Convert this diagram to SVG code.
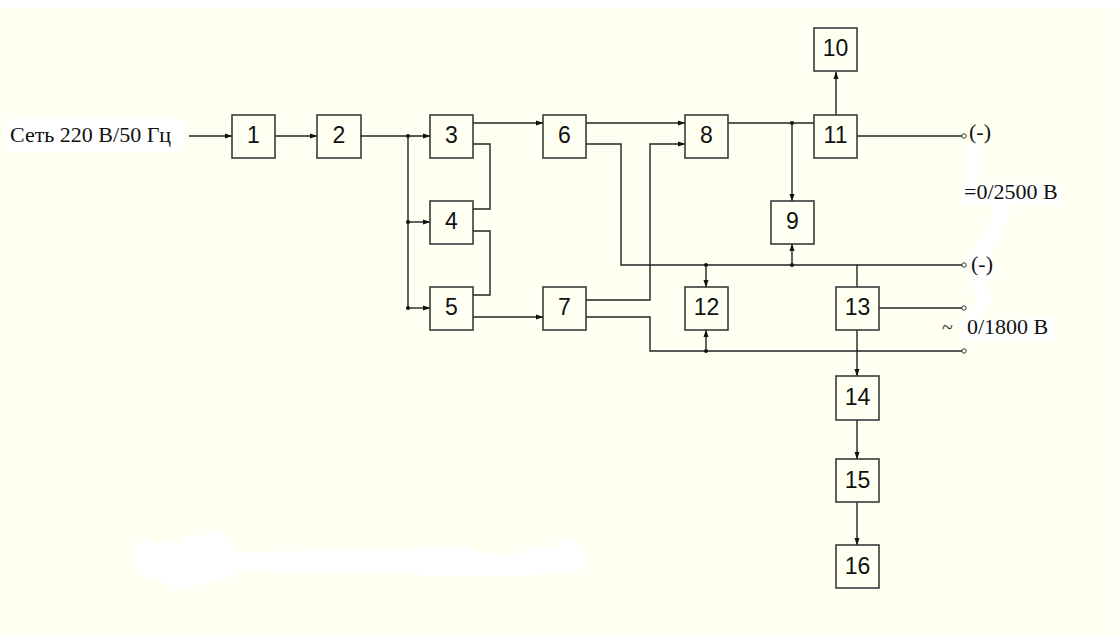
<svg xmlns="http://www.w3.org/2000/svg" width="1119" height="634" viewBox="0 0 1119 634">
<defs>
<marker id="arr" markerWidth="8" markerHeight="6" refX="7" refY="3" orient="auto" markerUnits="userSpaceOnUse">
<path d="M0,0.5 L7.5,3 L0,5.5 Z" fill="#111"/>
</marker>
<style>
.bx{fill:none;stroke:#3a3a3a;stroke-width:1.6}
.num{font-family:"Liberation Sans",Arial,sans-serif;font-size:23px;fill:#111;text-anchor:middle}
.lbl{font-family:"Liberation Serif","Times New Roman",serif;font-size:22px;fill:#111}
.ln{fill:none;stroke:#222;stroke-width:1.4}
.dot{fill:#111}
.term{fill:#fff;stroke:#333;stroke-width:1}
.wh{fill:#fff;stroke:none}
</style>
</defs>
<rect x="0" y="0" width="1119" height="634" fill="#FFFFF2"/>
<rect x="0" y="0" width="1119" height="7" fill="#fff"/>
<g id="erasures">
<rect class="wh" x="4" y="118" width="180" height="34" rx="8"/>
<path class="wh" d="M966,142 L984,142 L980,160 L978,183 L1060,183 L1062,205 L1012,206 L1005,226 L996,244 L990,256 L995,278 L987,284 L992,300 L985,312 L978,320 L1054,318 L1054,342 L960,342 L960,320 L968,314 L976,300 L972,286 L968,276 L968,256 L980,240 L990,222 L995,206 L962,206 L962,183 L966,180 L966,162 Z"/>
<path class="wh" d="M136,548 L142,539 L152,540 L155,545 L165,541 L180,545 L185,535 L196,538 L205,533 L218,530 L228,536 L232,546 L240,552 L360,550 L408,549 L440,547 L470,546 L478,553 L522,554 L524,548 L556,548 L558,538 L576,542 L580,550 L584,554 L584,566 L576,572 L556,574 L520,575 L460,576 L425,576 L420,573 L366,572 L300,572 L238,571 L232,577 L216,583 L200,584 L190,590 L170,590 L165,581 L148,579 L140,575 L136,565 Z"/>
</g>
<text class="lbl" x="10" y="142">Сеть 220 В/50 Гц</text>
<g id="connectors">
<line class="ln" x1="189" y1="136" x2="232" y2="136" marker-end="url(#arr)"/>
<line class="ln" x1="275" y1="136" x2="317" y2="136" marker-end="url(#arr)"/>
<line class="ln" x1="360" y1="136" x2="430" y2="136" marker-end="url(#arr)"/>
<line class="ln" x1="408" y1="136" x2="408" y2="308"/>
<line class="ln" x1="408" y1="222" x2="430" y2="222" marker-end="url(#arr)"/>
<line class="ln" x1="408" y1="308" x2="430" y2="308" marker-end="url(#arr)"/>
<circle class="dot" cx="408" cy="136" r="2"/>
<circle class="dot" cx="408" cy="222" r="2"/>
<circle class="dot" cx="408" cy="308" r="2"/>
<line class="ln" x1="473" y1="123" x2="543" y2="123" marker-end="url(#arr)"/>
<polyline class="ln" points="473,144 490,144 490,209 473,209"/>
<polyline class="ln" points="473,231 490,231 490,295 473,295"/>
<line class="ln" x1="473" y1="317" x2="543" y2="317" marker-end="url(#arr)"/>
<line class="ln" x1="586" y1="123" x2="685" y2="123" marker-end="url(#arr)"/>
<polyline class="ln" points="586,144 621,144 621,265 962,265"/>
<polyline class="ln" points="586,300 650,300 650,144 685,144" marker-end="url(#arr)"/>
<polyline class="ln" points="586,317 650,317 650,351 962,351"/>
<line class="ln" x1="728" y1="123" x2="814" y2="123"/>
<circle class="dot" cx="792" cy="123" r="2"/>
<line class="ln" x1="792" y1="123" x2="792" y2="201" marker-end="url(#arr)"/>
<circle class="dot" cx="792" cy="265" r="2"/>
<line class="ln" x1="792" y1="265" x2="792" y2="244" marker-end="url(#arr)"/>
<circle class="dot" cx="706" cy="265" r="2"/>
<line class="ln" x1="706" y1="265" x2="706" y2="287" marker-end="url(#arr)"/>
<circle class="dot" cx="706" cy="351" r="2"/>
<line class="ln" x1="706" y1="351" x2="706" y2="330" marker-end="url(#arr)"/>
<line class="ln" x1="857" y1="265" x2="857" y2="287"/>
<line class="ln" x1="836" y1="115" x2="836" y2="72" marker-end="url(#arr)"/>
<line class="ln" x1="857" y1="136" x2="962" y2="136"/>
<line class="ln" x1="879" y1="308" x2="962" y2="308"/>
<line class="ln" x1="857" y1="330" x2="857" y2="376" marker-end="url(#arr)"/>
<line class="ln" x1="857" y1="420" x2="857" y2="459" marker-end="url(#arr)"/>
<line class="ln" x1="857" y1="502" x2="857" y2="545" marker-end="url(#arr)"/>
<circle class="term" cx="964" cy="136" r="2.2"/>
<circle class="term" cx="964" cy="265" r="2.2"/>
<circle class="term" cx="964" cy="308" r="2.2"/>
<circle class="term" cx="964" cy="351" r="2.2"/>
</g>
<g id="n1"><rect class="bx" x="232" y="115" width="43" height="43"/><text class="num" x="253.5" y="143">1</text></g>
<g id="n2"><rect class="bx" x="317" y="115" width="44" height="43"/><text class="num" x="339" y="143">2</text></g>
<g id="n3"><rect class="bx" x="430" y="115" width="43" height="43"/><text class="num" x="451.5" y="143">3</text></g>
<g id="n4"><rect class="bx" x="430" y="201" width="43" height="43"/><text class="num" x="451.5" y="229">4</text></g>
<g id="n5"><rect class="bx" x="430" y="287" width="43" height="43"/><text class="num" x="451.5" y="315">5</text></g>
<g id="n6"><rect class="bx" x="543" y="115" width="43" height="43"/><text class="num" x="564.5" y="143">6</text></g>
<g id="n7"><rect class="bx" x="543" y="287" width="43" height="43"/><text class="num" x="564.5" y="315">7</text></g>
<g id="n8"><rect class="bx" x="685" y="115" width="43" height="43"/><text class="num" x="706.5" y="143">8</text></g>
<g id="n9"><rect class="bx" x="771" y="201" width="43" height="43"/><text class="num" x="792.5" y="229">9</text></g>
<g id="n10"><rect class="bx" x="814" y="28" width="43" height="43"/><text class="num" x="835.5" y="56">10</text></g>
<g id="n11"><rect class="bx" x="814" y="115" width="43" height="43"/><text class="num" x="835.5" y="143">11</text></g>
<g id="n12"><rect class="bx" x="685" y="287" width="43" height="43"/><text class="num" x="706.5" y="315">12</text></g>
<g id="n13"><rect class="bx" x="836" y="287" width="43" height="43"/><text class="num" x="857.5" y="315">13</text></g>
<g id="n14"><rect class="bx" x="836" y="376" width="43" height="44"/><text class="num" x="857.5" y="405">14</text></g>
<g id="n15"><rect class="bx" x="836" y="459" width="43" height="43"/><text class="num" x="857.5" y="488">15</text></g>
<g id="n16"><rect class="bx" x="836" y="545" width="43" height="43"/><text class="num" x="857.5" y="574">16</text></g>
<g id="labels">
<text class="lbl" x="969" y="139">(-)</text>
<text class="lbl" x="964" y="199">=0/2500 В</text>
<text class="lbl" x="971" y="271">(-)</text>
<text class="lbl" x="942" y="334" style="font-size:20px;fill:#333">~</text>
<text class="lbl" x="967" y="334">0/1800 В</text>
</g>
</svg>
